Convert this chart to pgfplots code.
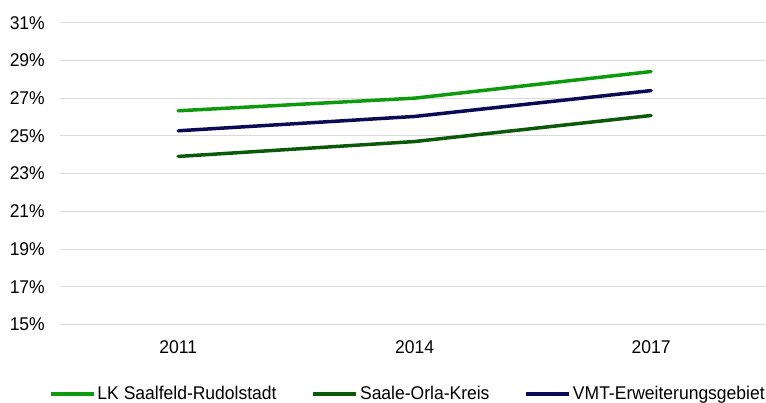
\documentclass[border=0pt]{standalone}
\usepackage{fontspec}
\setmainfont{Liberation Sans}[FakeStretch=0.95]
\usepackage{pgfplots}
\pgfplotsset{compat=1.18}
\definecolor{lkgreen}{HTML}{0E9A0E}
\definecolor{sokgreen}{HTML}{0A5A0A}
\definecolor{vmtnavy}{HTML}{0A0A55}
\definecolor{gridgray}{HTML}{D9D9D9}
\newcommand{\chartfont}{\fontsize{18.5}{22}\selectfont}

\begin{document}
\begin{tikzpicture}
\useasboundingbox (-60bp,-78.5bp) rectangle (706bp,324.5bp);
\begin{axis}[
  scale only axis, width=706bp, height=301.8bp,
  xmin=-0.5, xmax=2.486, ymin=15, ymax=31,
  xtick={0,1,2}, xticklabels={2011,2014,2017},
  ytick={15,17,...,31},
  yticklabel={\pgfmathprintnumber{\tick}\%},
  /pgf/number format/assume math mode=true,
  axis line style={draw=none},
  major tick length=0pt,
  ymajorgrids, grid style={draw=gridgray, line width=1bp},
  every tick label/.append style={font=\chartfont},
  yticklabel style={anchor=east, inner sep=0pt, xshift=-15bp},
  xticklabel style={anchor=north, inner sep=0pt, yshift=-15.5bp},
  legend style={at={(-0.0156,-0.2303)}, anchor=west, draw=none, fill=none,
    inner sep=0pt, outer sep=0pt, font=\chartfont, legend columns=-1,
    nodes={inner sep=0pt},
    /tikz/every even column/.append style={column sep=35bp},
    /tikz/every odd column/.append style={column sep=2bp}},
  legend image code/.code={\draw[#1, line cap=butt] (0bp,0bp) -- (43bp,0bp);},
  every axis plot/.append style={line width=3.5bp, line cap=round, line join=round},
]
\addplot[lkgreen] coordinates {(0,26.33) (1,27.0) (2,28.41)};
\addlegendentry{LK Saalfeld-Rudolstadt}
\addplot[sokgreen] coordinates {(0,23.91) (1,24.70) (2,26.08)};
\addlegendentry{Saale-Orla-Kreis}
\addplot[vmtnavy] coordinates {(0,25.27) (1,26.03) (2,27.40)};
\addlegendentry{VMT-Erweiterungsgebiet}
\end{axis}
\end{tikzpicture}
\end{document}
